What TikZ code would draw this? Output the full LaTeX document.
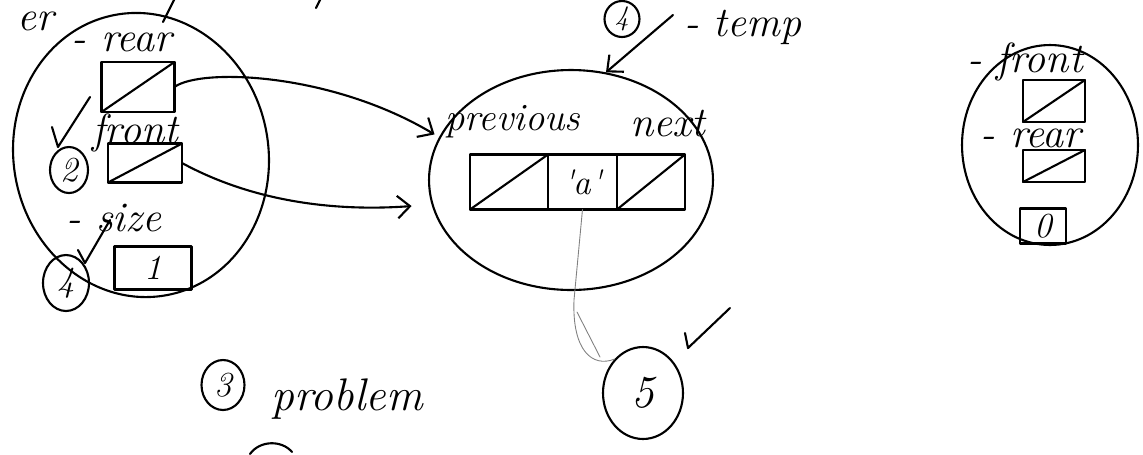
\documentclass[tikz,border=0pt]{standalone}
\usepackage{tikz}
\usetikzlibrary{shapes.geometric,arrows.meta,positioning}

\begin{document}
\begin{tikzpicture}[x=0.02cm,y=-0.02cm,
 pen/.style={line width=1.2pt,line cap=round,line join=round},
 hand/.style={font=\fontsize{24}{28}\selectfont\itshape,inner sep=0pt},
 holder/.style={ellipse,draw,pen,inner sep=0pt},
 cell/.style={rectangle,draw,pen,inner sep=0pt,outer sep=0pt,
 font=\fontsize{20}{24}\selectfont\itshape},
 num/.style={ellipse,draw,pen,inner sep=0pt,font=\fontsize{20}{24}\selectfont\itshape},
 faint/.style={draw=gray,line width=0.5pt,line cap=round},
 ptr/.style={pen,-{Straight Barb[length=2.5mm,width=4.5mm]}}]
\useasboundingbox (0,0) rectangle (1143,454);
\node[hand,anchor=base] (frag) at (36,30) {er};
\draw[pen] (175,-2) -- (163,22);
\draw[pen] (321,-2) -- (316,8);
\node[holder,minimum width=5.1cm,minimum height=5.7cm,rotate=10] (qL) at (141,155) {};
\node[hand] (rearL) at (122,42) {- rear};
\node[cell,minimum width=1.46cm,minimum height=1.0cm] (rearBox) at (138,87) {};
\node[hand] (frontL) at (135,133) {front};
\node[cell,minimum width=1.48cm,minimum height=0.78cm] (frontBox) at (145,163) {};
\node[hand] (sizeL) at (114,218) {- size};
\node[cell,minimum width=1.54cm,minimum height=0.86cm] (sizeBox) at (153,268) {1};
\node[num,minimum width=0.76cm,minimum height=0.92cm] (n2) at (69,170) {2};
\node[num,minimum width=0.92cm,minimum height=1.12cm] (n4) at (66,283) {4};
\draw[pen] (rearBox.south west) -- (rearBox.north east);
\draw[pen] (frontBox.south west) -- (frontBox.north east);
\draw[pen] (52,127) -- (58,147) -- (90,97);
\draw[pen] (78,250) -- (85,263) -- (110,220);
\node[holder,minimum width=5.68cm,minimum height=4.4cm] (qM) at (571,180) {};
\node[hand,font=\fontsize{22}{26}\selectfont\itshape] (prev) at (513,122) {previous};
\node[hand] (nxt) at (668,124) {next};
\node[cell,minimum width=1.56cm,minimum height=1.1cm] (c1) at (509,182) {};
\node[cell,minimum width=1.38cm,minimum height=1.1cm,right=0pt of c1] (c2) {\textquotesingle a\textquotesingle};
\node[cell,minimum width=1.36cm,minimum height=1.1cm,right=0pt of c2] (c3) {};
\draw[pen] (c1.south west) -- (c1.north east);
\draw[pen] (c3.south west) -- (c3.north east);
\node[num,minimum width=1.6cm,minimum height=1.84cm,font=\fontsize{26}{30}\selectfont\itshape] (n5) at (643,393) {5};
\draw[faint] (c2.south) -- (574,300) .. controls (572,350) and (592,368) .. (n5.130);
\draw[faint] (577,312) -- (600,357);
\draw[pen] (685,333) -- (688,348) -- (730,308);
\node[num,minimum width=0.7cm,minimum height=0.72cm,font=\fontsize{16}{20}\selectfont\itshape] (n4top) at (622,19) {4};
\node[hand,anchor=base] (tmpL) at (743,36) {- temp};
\coordinate (tmpTail) at (673,15);
\draw[ptr] (tmpTail) -- (qM.72);
\draw[ptr,shorten >=3pt] (rearBox.east) .. controls (200,68) and (330,72) .. (qM.162);
\draw[ptr,shorten >=0.4cm] (frontBox.east) .. controls (250,200) and (330,212) .. (qM.190);
\node[holder,minimum width=3.52cm,minimum height=4.0cm] (qR) at (1050,145) {};
\node[hand] (frontR) at (1025,62) {- front};
\node[cell,minimum width=1.24cm,minimum height=0.84cm] (frontBoxR) at (1054,101) {};
\node[hand] (rearR) at (1031,138) {- rear};
\node[cell,minimum width=1.24cm,minimum height=0.64cm] (rearBoxR) at (1054,166) {};
\node[cell,minimum width=0.92cm,minimum height=0.7cm] (sizeBoxR) at (1043,226) {0};
\draw[pen] (frontBoxR.south west) -- (frontBoxR.north east);
\draw[pen] (rearBoxR.south west) -- (rearBoxR.north east);
\node[num,minimum width=0.86cm,minimum height=1.0cm] (n3) at (223,385) {3};
\node[hand,font=\fontsize{26}{30}\selectfont\itshape,anchor=base] (prob) at (347,410) {problem};
\draw[pen] (250,454) .. controls (260,440) and (282,440) .. (292,452);
\end{tikzpicture}
\end{document}
